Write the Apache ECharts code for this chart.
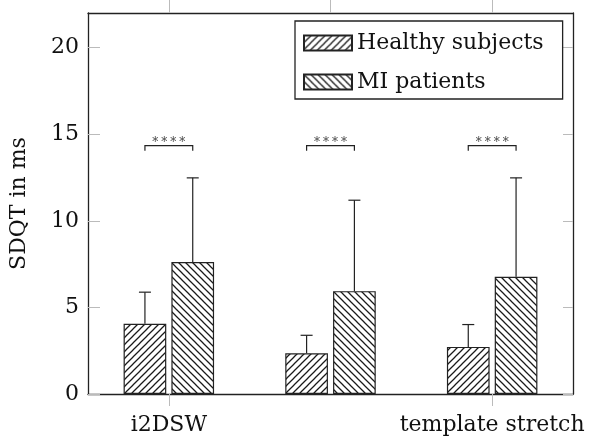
<!DOCTYPE html>
<html><head><meta charset="utf-8">
<script src="https://cdn.jsdelivr.net/npm/echarts@6/dist/echarts.min.js"></script>
<style>html,body{margin:0;padding:0;background:#fff}#c{width:589px;height:438px}</style>
</head><body><div id="c"></div>
<script>
const categories = ['i2DSW', '2DSW', 'template stretch'];
const seriesNames = ['Healthy subjects', 'MI patients'];
const healthyMean = [4.05, 2.35, 2.72];
const healthySD = [1.83, 1.04, 1.29];
const miMean = [7.62, 5.94, 6.77];
const miSD = [4.86, 5.25, 5.71];
const sigLevel = [14.34, 14.34, 14.34];
const sigLabel = ['****', '****', '****'];
const yTicks = [0, 5, 10, 15, 20];

const FONT = 'DejaVu Serif';
const INK = '#222';
const BAR_W = 0.264, BAR_GAP = 0.12;

function hatch(dir) {
  const s = 7;
  const c = document.createElement('canvas');
  c.width = s; c.height = s;
  const g = c.getContext('2d');
  g.fillStyle = '#fff'; g.fillRect(0, 0, s, s);
  g.strokeStyle = '#1a1a1a'; g.lineWidth = 1.25;
  g.beginPath();
  if (dir > 0) {
    g.moveTo(-1, s + 1); g.lineTo(s + 1, -1);
    g.moveTo(-1, 1); g.lineTo(1, -1);
    g.moveTo(s - 1, s + 1); g.lineTo(s + 1, s - 1);
  } else {
    g.moveTo(-1, -1); g.lineTo(s + 1, s + 1);
    g.moveTo(s - 1, -1); g.lineTo(s + 1, 1);
    g.moveTo(-1, s - 1); g.lineTo(1, s + 1);
  }
  g.stroke();
  return c;
}

function offsetFor(api, side) {
  const band = api.size([1, 0])[0];
  const w = band * BAR_W;
  return side * (w + w * BAR_GAP) / 2;
}

function errRender(side) {
  return function (params, api) {
    const i = api.value(0), m = api.value(1), sd = api.value(2);
    const base = api.coord([i, m]);
    const top = api.coord([i, m + sd]);
    const x = base[0] + offsetFor(api, side);
    const st = { stroke: INK, lineWidth: 1.2 };
    return { type: 'group', children: [
      { type: 'line', shape: { x1: x, y1: base[1], x2: x, y2: top[1] }, style: st },
      { type: 'line', shape: { x1: x - 6, y1: top[1], x2: x + 6, y2: top[1] }, style: st }
    ]};
  };
}

function sigRender(params, api) {
  const i = api.value(0), v = api.value(1);
  const p = api.coord([i, v]);
  const off = offsetFor(api, 1);
  const x1 = p[0] - off, x2 = p[0] + off, y = p[1];
  const label = sigLabel[params.dataIndex];
  const children = [
    { type: 'polyline', shape: { points: [[x1, y + 5], [x1, y], [x2, y], [x2, y + 5]] },
      style: { stroke: INK, lineWidth: 1.2, fill: null } }
  ];
  const n = label.length, step = 9;
  for (let k = 0; k < n; k++) {
    children.push({ type: 'text', x: p[0] + (k - (n - 1) / 2) * step, y: y - 3,
      style: { text: label[k], fontFamily: FONT, fontSize: 12, fill: '#444',
               align: 'center', verticalAlign: 'middle' } });
  }
  return { type: 'group', children };
}

const axisLineStyle = { color: INK, width: 1.3 };
const tickStyle = { color: '#bbb', width: 1 };

const option = {
  animation: false,
  backgroundColor: '#fff',
  grid: { left: 88, right: 16, top: 13, bottom: 44, containLabel: false, outerBoundsMode: 'none' },
  legend: {
    left: 295, top: 21, orient: 'vertical',
    data: seriesNames.map(n => ({ name: n, icon: 'rect' })),
    itemWidth: 48, itemHeight: 15, itemGap: 11,
    borderColor: INK, borderWidth: 1.3, borderRadius: 0,
    padding: [8, 19, 3, 8], backgroundColor: '#fff',
    textStyle: { fontFamily: FONT, fontSize: 22, color: '#111', lineHeight: 28 }
  },
  xAxis: [
    { type: 'category', data: categories, position: 'bottom',
      axisLine: { show: true, onZero: false, lineStyle: axisLineStyle },
      axisTick: { show: true, alignWithLabel: true, length: 12, lineStyle: tickStyle },
      axisLabel: { fontFamily: FONT, fontSize: 22, color: '#111', margin: 20 },
      splitLine: { show: false } },
    { type: 'category', data: categories, position: 'top',
      axisLine: { show: true, onZero: false, lineStyle: axisLineStyle },
      axisTick: { show: true, alignWithLabel: true, length: 13, lineStyle: tickStyle },
      axisLabel: { show: false }, splitLine: { show: false } }
  ],
  yAxis: [
    { type: 'value', min: 0, max: 22, interval: 5, position: 'left',
      axisLine: { show: true, onZero: false, lineStyle: axisLineStyle },
      axisTick: { show: true, inside: true, length: 12, customValues: yTicks, lineStyle: tickStyle },
      axisLabel: { customValues: yTicks, fontFamily: FONT, fontSize: 22, color: '#111', margin: 9 },
      splitLine: { show: false },
      name: 'SDQT in ms', nameLocation: 'middle', nameGap: 58, nameRotate: 90,
      nameTextStyle: { fontFamily: FONT, fontSize: 22, color: '#111' } },
    { type: 'value', min: 0, max: 22, interval: 5, position: 'right',
      axisLine: { show: true, onZero: false, lineStyle: axisLineStyle },
      axisTick: { show: true, inside: true, length: 10, customValues: yTicks, lineStyle: tickStyle },
      axisLabel: { show: false }, splitLine: { show: false } }
  ],
  series: [
    { name: seriesNames[0], type: 'bar', data: healthyMean, barWidth: (BAR_W * 100) + '%', barGap: (BAR_GAP * 100) + '%',
      itemStyle: { color: { image: hatch(1), repeat: 'repeat' }, borderColor: INK, borderWidth: 1.2 } },
    { name: seriesNames[1], type: 'bar', data: miMean, barWidth: (BAR_W * 100) + '%', barGap: (BAR_GAP * 100) + '%',
      itemStyle: { color: { image: hatch(-1), repeat: 'repeat' }, borderColor: INK, borderWidth: 1.2 } },
    { type: 'custom', renderItem: errRender(-1), z: 5,
      data: healthyMean.map((m, i) => [i, m, healthySD[i]]) },
    { type: 'custom', renderItem: errRender(1), z: 5,
      data: miMean.map((m, i) => [i, m, miSD[i]]) },
    { type: 'custom', renderItem: sigRender, z: 5,
      data: sigLevel.map((v, i) => [i, v]) }
  ]
};

const chart = echarts.init(document.getElementById('c'), null, { renderer: 'canvas' });
chart.setOption(option);
</script>
</body></html>
